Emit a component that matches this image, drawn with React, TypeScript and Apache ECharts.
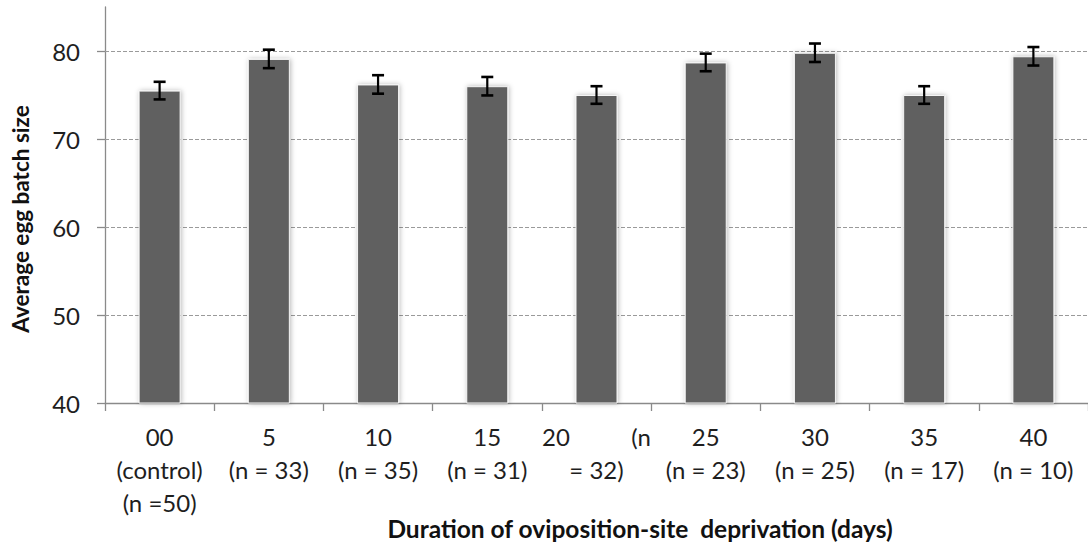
import React, { useEffect, useRef } from "react";
import * as echarts from "echarts";

const xLabels = [
  "00\n(control)\n(n =50)",
  "5\n(n = 33)",
  "10\n(n = 35)",
  "15\n(n = 31)",
  "20          (n\n= 32)",
  "25\n(n = 23)",
  "30\n(n = 25)",
  "35\n(n = 17)",
  "40\n(n = 10)",
];
const means = [75.5, 79.1, 76.2, 76.0, 75.0, 78.7, 79.8, 75.0, 79.4];
const errors = [1.0, 1.05, 1.05, 1.05, 1.0, 1.0, 1.05, 1.0, 1.05];
const yTicks = [40, 50, 60, 70, 80];
const gridValues = [50, 60, 70, 80];

const FONT = "Lato";

export default function App() {
  const ref = useRef<HTMLDivElement>(null);
  useEffect(() => {
    const chart = echarts.init(ref.current!, null, { renderer: "svg" });
    const errData = means.map((m, i) => [i, m - errors[i], m + errors[i]]);
    chart.setOption({
      animation: false,
      textStyle: { fontFamily: FONT },
      grid: { left: 105, top: 7, width: 990, height: 396, containLabel: false },
      xAxis: {
        type: "category",
        data: xLabels,
        boundaryGap: true,
        axisLine: { show: true, lineStyle: { color: "#8a8a8a", width: 1.3 } },
        axisTick: { show: true, length: 8, lineStyle: { color: "#8a8a8a", width: 1.3 } },
        axisLabel: {
          interval: 0,
          margin: 17,
          fontSize: 24,
          lineHeight: 33,
          color: "#1e1e1e",
          fontFamily: FONT,
          align: "center",
        },
        splitLine: { show: false },
      },
      yAxis: {
        type: "value",
        min: 40,
        max: 85,
        interval: 10,
        axisLine: { show: true, lineStyle: { color: "#8a8a8a", width: 1.3 } },
        axisTick: {
          show: true,
          length: 8,
          customValues: yTicks,
          lineStyle: { color: "#8a8a8a", width: 1.3 },
        },
        axisLabel: {
          margin: 25,
          fontSize: 24,
          color: "#1e1e1e",
          fontFamily: FONT,
          customValues: yTicks,
        },
        splitLine: { show: false },
      },
      graphic: [
        {
          type: "text",
          x: 640,
          y: 528,
          style: {
            text: "Duration of oviposition-site  deprivation (days)",
            fontFamily: FONT,
            fontWeight: "bold",
            fontSize: 24.5,
            fill: "#111",
            align: "center",
            verticalAlign: "middle",
          },
        },
        {
          type: "text",
          x: 20,
          y: 219,
          rotation: Math.PI / 2,
          style: {
            text: "Average egg batch size",
            fontFamily: FONT,
            fontWeight: "bold",
            fontSize: 22.5,
            fill: "#111",
            align: "center",
            verticalAlign: "middle",
          },
        },
      ],
      series: [
        {
          type: "bar",
          data: means,
          barWidth: 42,
          z: 3,
          itemStyle: {
            color: "#606060",
            borderColor: "#f4f4f4",
            borderWidth: 1,
            shadowColor: "rgba(0,0,0,0.28)",
            shadowBlur: 5,
            shadowOffsetX: 1,
            shadowOffsetY: 0,
          },
          markLine: {
            silent: true,
            z: 1,
            symbol: ["none", "none"],
            label: { show: false },
            lineStyle: { type: [4, 2], color: "#9a9a9a", width: 1 },
            data: gridValues.map((v) => ({ yAxis: v })),
          },
        },
        {
          type: "custom",
          z: 5,
          data: errData,
          renderItem: (params: any, api: any) => {
            const idx = api.value(0);
            const lo = api.coord([idx, api.value(1)]);
            const hi = api.coord([idx, api.value(2)]);
            const hw = 6;
            const style = { stroke: "#000", lineWidth: 2.2, fill: "none" };
            return {
              type: "group",
              children: [
                { type: "line", shape: { x1: hi[0], y1: hi[1], x2: lo[0], y2: lo[1] }, style },
                { type: "line", shape: { x1: hi[0] - hw, y1: hi[1], x2: hi[0] + hw, y2: hi[1] }, style: { ...style, lineWidth: 2.6 } },
                { type: "line", shape: { x1: lo[0] - hw, y1: lo[1], x2: lo[0] + hw, y2: lo[1] }, style: { ...style, lineWidth: 2.6 } },
              ],
            };
          },
        },
      ],
    });
    return () => chart.dispose();
  }, []);
  return (
    <div
      ref={ref}
      style={{ position: "absolute", left: 0, top: 0, width: 1088, height: 542, background: "#fff" }}
    />
  );
}
